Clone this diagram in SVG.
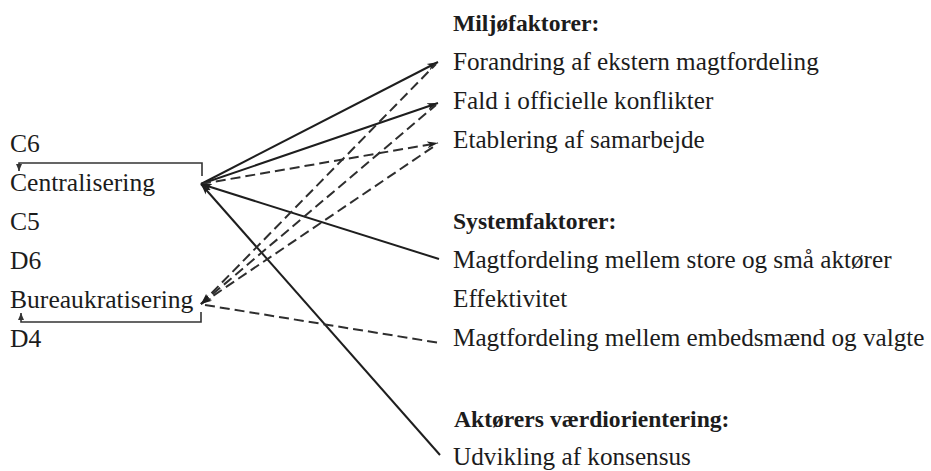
<svg xmlns="http://www.w3.org/2000/svg" width="931" height="471" viewBox="0 0 931 471">
<style>
.t{font-family:"Liberation Serif","Times New Roman",serif;font-size:25.6px;fill:#1c1c1c}
.r{font-size:25.2px}
.h{font-family:"Liberation Serif","Times New Roman",serif;font-size:23.6px;font-weight:bold;fill:#1c1c1c}
.s{stroke:#1e1e1e;stroke-width:2;fill:none}
.d{stroke:#2e2e2e;stroke-width:2;fill:none;stroke-dasharray:10 5}
.b{stroke:#333;stroke-width:1.6;fill:none}
</style>
<defs>
<marker id="ah" markerUnits="userSpaceOnUse" markerWidth="12" markerHeight="10" viewBox="0 0 12 10" refX="11" refY="5" orient="auto">
<path d="M0,1.5 L11,5 L0,8.5 L3,5 Z" fill="#1e1e1e"/>
</marker>
<marker id="as" markerUnits="userSpaceOnUse" markerWidth="12" markerHeight="10" viewBox="0 0 12 10" refX="11" refY="5" orient="auto-start-reverse">
<path d="M0,1.5 L11,5 L0,8.5 L3,5 Z" fill="#1e1e1e"/>
</marker>
<marker id="tk" markerUnits="userSpaceOnUse" markerWidth="8" markerHeight="8" viewBox="0 0 8 8" refX="7" refY="4" orient="auto">
<path d="M0,1 L7,4 L0,7 Z" fill="#333"/>
</marker>
</defs>

<g id="connectors">
<line class="s" x1="201" y1="184" x2="438" y2="62" marker-end="url(#ah)"/>
<line class="s" x1="201" y1="184" x2="438" y2="103" marker-end="url(#ah)"/>
<line class="d" x1="201" y1="184" x2="438" y2="143" marker-end="url(#ah)"/>
<line class="s" x1="201" y1="184" x2="439" y2="259" marker-start="url(#as)"/>
<line class="s" x1="201" y1="184" x2="440" y2="455" marker-start="url(#as)"/>
<line class="d" x1="201" y1="304" x2="436" y2="64" marker-start="url(#as)"/>
<line class="d" x1="201" y1="304" x2="436" y2="105" marker-start="url(#as)"/>
<line class="d" x1="201" y1="304" x2="436" y2="145" marker-start="url(#as)"/>
<line class="d" x1="205" y1="305" x2="440" y2="343"/>
</g>

<g id="bracket-c6">
<polyline class="b" points="202,176 202,163 19,163 19,171" marker-end="url(#tk)"/>
</g>
<g id="bracket-d4">
<polyline class="b" points="201,312 201,322 21,322 21,313" marker-end="url(#tk)"/>
</g>

<g id="left">
<text class="t" x="10" y="152">C6</text>
<g id="centralisering"><text class="t" x="10" y="191">Centralisering</text></g>
<text class="t" x="10" y="230">C5</text>
<text class="t" x="10" y="269">D6</text>
<g id="bureaukratisering"><text class="t" x="10" y="308">Bureaukratisering</text></g>
<text class="t" x="10" y="347">D4</text>
</g>

<g id="miljofaktorer">
<text class="h" x="453" y="31">Miljøfaktorer:</text>
<g id="forandring"><text class="t r" x="453" y="70">Forandring af ekstern magtfordeling</text></g>
<g id="fald"><text class="t r" x="453" y="109">Fald i officielle konflikter</text></g>
<g id="etablering"><text class="t r" x="453" y="148">Etablering af samarbejde</text></g>
</g>

<g id="systemfaktorer">
<text class="h" x="453" y="229">Systemfaktorer:</text>
<g id="magt1"><text class="t r" x="453" y="268">Magtfordeling mellem store og små aktører</text></g>
<g id="effektivitet"><text class="t r" x="453" y="307">Effektivitet</text></g>
<g id="magt2"><text class="t r" x="453" y="346">Magtfordeling mellem embedsmænd og valgte</text></g>
</g>

<g id="aktorer">
<text class="h" x="454" y="427">Aktørers værdiorientering:</text>
<g id="udvikling"><text class="t r" x="453" y="465">Udvikling af konsensus</text></g>
</g>
</svg>
